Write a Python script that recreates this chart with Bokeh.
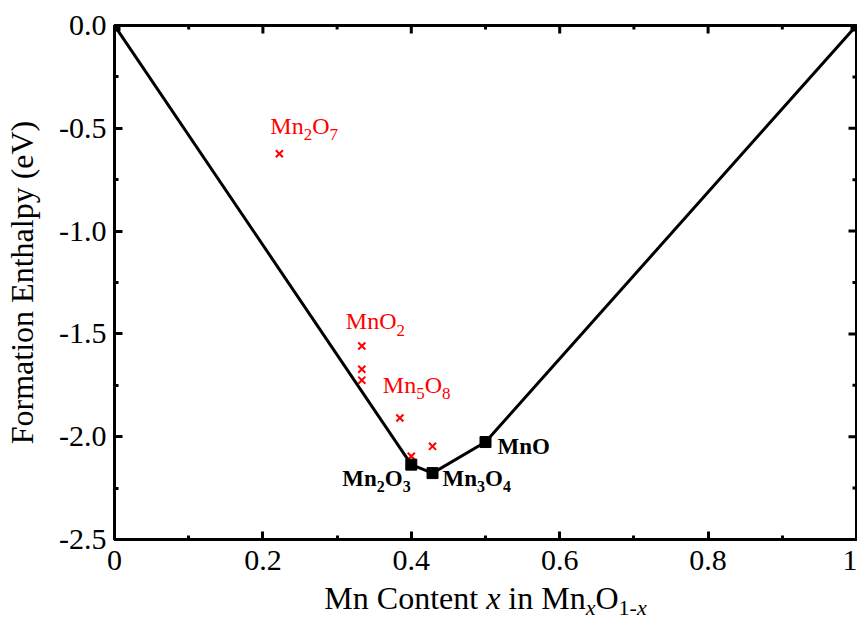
import math
from bokeh.plotting import figure
from bokeh.models import Label, FixedTicker, Range1d
from bokeh.layouts import column
from bokeh.embed import file_html
from bokeh.resources import INLINE

# ---- data ----
hull_x = [0.0, 0.4, 0.4286, 0.5, 1.0]
hull_y = [0.0, -2.136, -2.177, -2.026, 0.0]

meta_x = [0.2222, 0.3333, 0.3333, 0.3333, 0.3846, 0.4, 0.4286]
meta_y = [-0.624, -1.559, -1.672, -1.725, -1.909, -2.095, -2.047]

x_major = [0.0, 0.2, 0.4, 0.6, 0.8, 1.0]
x_minor = [0.1, 0.3, 0.5, 0.7, 0.9]
x_labels = ["0", "0.2", "0.4", "0.6", "0.8", "1"]
y_major = [0.0, -0.5, -1.0, -1.5, -2.0, -2.5]
y_minor = [-0.25, -0.75, -1.25, -1.75, -2.25]
y_labels = ["0.0", "-0.5", "-1.0", "-1.5", "-2.0", "-2.5"]

y_title = "Formation Enthalpy (eV)"
# x title pieces: (text, is_subscript, font style, space after)
x_title = [("Mn Content", False, "normal", True), ("x", False, "italic", True),
           ("in Mn", False, "normal", False), ("x", True, "italic", False),
           ("O", False, "normal", False), ("1-", True, "normal", False),
           ("x", True, "italic", False)]

# formula labels: anchor compound (x, y), parts [(text, is_sub)]
red_labels = [
    (0.2222, -0.624, [("Mn", False), ("2", True), ("O", False), ("7", True)]),
    (0.3333, -1.559, [("MnO", False), ("2", True)]),
    (0.3846, -1.909, [("Mn", False), ("5", True), ("O", False), ("8", True)]),
]
black_labels = [
    (0.4, -2.136, [("Mn", False), ("2", True), ("O", False), ("3", True)]),
    (0.4286, -2.177, [("Mn", False), ("3", True), ("O", False), ("4", True)]),
    (0.5, -2.026, [("MnO", False)]),
]
# pixel offsets of label baselines from the anchors
red_offsets = [(-9, 28), (-16, 25), (-17, 33)]
black_offsets = [(-69, -14), (10, -5), (12, -4)]

FONT = "Liberation Serif"
REG = {'M': 0.889, 'n': 0.5, 'O': 0.722, 'C': 0.667, 'o': 0.5, 't': 0.278,
       'e': 0.444, ' ': 0.25, 'i': 0.278, 'x': 0.444, '-': 0.333}
BOLD = {'M': 0.944, 'n': 0.556, 'O': 0.778}


def twidth(s, size, bold=False):
    table = BOLD if bold else REG
    return sum(table.get(c, REG.get(c, 0.5)) for c in s) * size


W = 857
H_TOP = 585
OVERLAP = 8
H_BOT = 38 + OVERLAP

p = figure(width=W, height=H_TOP, output_backend="svg", toolbar_location=None,
           x_range=Range1d(0, 1), y_range=Range1d(-2.5, 0),
           min_border_left=114, min_border_right=1, min_border_top=25,
           min_border_bottom=46)
p.grid.visible = False
p.outline_line_color = "black"
p.outline_line_width = 3
p.background_fill_color = "white"
p.border_fill_color = "white"

for ax, maj, mnr, labs in ((p.xaxis[0], x_major, x_minor, x_labels),
                           (p.yaxis[0], y_major, y_minor, y_labels)):
    ax.ticker = FixedTicker(ticks=maj, minor_ticks=mnr)
    ax.major_label_overrides = {v: s for v, s in zip(maj, labs)}
    ax.axis_line_width = 3
    ax.major_tick_line_width = 3
    ax.minor_tick_line_width = 3
    ax.major_tick_in = 8
    ax.major_tick_out = 0
    ax.minor_tick_in = 4
    ax.minor_tick_out = 0
    ax.major_label_text_font = FONT
    ax.major_label_text_font_size = "30px"
    ax.major_label_text_color = "black"
p.xaxis[0].major_label_standoff = 11
p.yaxis[0].major_label_standoff = 8

p.yaxis[0].axis_label = y_title
p.yaxis[0].axis_label_text_font = FONT
p.yaxis[0].axis_label_text_font_size = "32px"
p.yaxis[0].axis_label_text_font_style = "normal"
p.yaxis[0].axis_label_text_color = "black"
p.yaxis[0].axis_label_standoff = 16

# mirrored ticks on top and right
p.ray(x=x_major, y=[0.0] * len(x_major), length=8, length_units="screen",
      angle=-math.pi / 2, line_color="black", line_width=3)
p.ray(x=x_minor, y=[0.0] * len(x_minor), length=4, length_units="screen",
      angle=-math.pi / 2, line_color="black", line_width=3)
p.ray(x=[1.0] * len(y_major), y=y_major, length=8, length_units="screen",
      angle=math.pi, line_color="black", line_width=3)
p.ray(x=[1.0] * len(y_minor), y=y_minor, length=4, length_units="screen",
      angle=math.pi, line_color="black", line_width=3)

# data
p.scatter(meta_x, meta_y, marker="x", size=10, line_color="red", line_width=2)
p.line(hull_x, hull_y, line_color="black", line_width=3)
p.scatter(hull_x, hull_y, marker="square", size=11, fill_color="black",
          line_color="black")


def formula(fig, x, y, dx, dy, parts, size, sub_size, shift, color, bold):
    acc = 0.0
    for txt, sub in parts:
        fs = sub_size if sub else size
        fig.add_layout(Label(x=x, y=y, x_offset=dx + acc,
                             y_offset=dy - (shift if sub else 0), text=txt,
                             text_font=FONT, text_font_size=f"{fs}px",
                             text_font_style="bold" if bold else "normal",
                             text_color=color, text_align="left",
                             text_baseline="alphabetic"))
        acc += twidth(txt, fs, bold)


for (x, y, parts), (dx, dy) in zip(red_labels, red_offsets):
    formula(p, x, y, dx, dy, parts, 24, 17, 9, "red", False)
for (x, y, parts), (dx, dy) in zip(black_labels, black_offsets):
    formula(p, x, y, dx, dy, parts, 23, 16, 8, "black", True)

# second strip below (frame aligned with the plot) for the mixed-style x title;
# it slightly overlaps the empty lower margin of the plot
q = figure(width=W, height=H_BOT, output_backend="svg", toolbar_location=None,
           x_range=Range1d(0, 1), y_range=Range1d(0, H_BOT),
           min_border_left=114, min_border_right=1, min_border_top=0,
           min_border_bottom=0, margin=(-OVERLAP, 0, 0, 0))
q.axis.visible = False
q.grid.visible = False
q.outline_line_color = None
q.background_fill_alpha = 0
q.border_fill_alpha = 0

MAIN, SUB = 32, 22
widths = []
for txt, sub, style, sp in x_title:
    fs = SUB if sub else MAIN
    widths.append(twidth(txt, fs) + (REG[' '] * MAIN if sp else 0))
acc = -sum(widths) / 2
for (txt, sub, style, sp), w in zip(x_title, widths):
    fs = SUB if sub else MAIN
    q.add_layout(Label(x=0.5, y=0, x_offset=acc, y_offset=26 - (10 if sub else 0),
                       text=txt, text_font=FONT, text_font_size=f"{fs}px",
                       text_font_style=style, text_color="black",
                       text_align="left", text_baseline="alphabetic"))
    acc += w

layout = column(p, q, spacing=0)
open("out.html", "w").write(file_html(layout, INLINE))
